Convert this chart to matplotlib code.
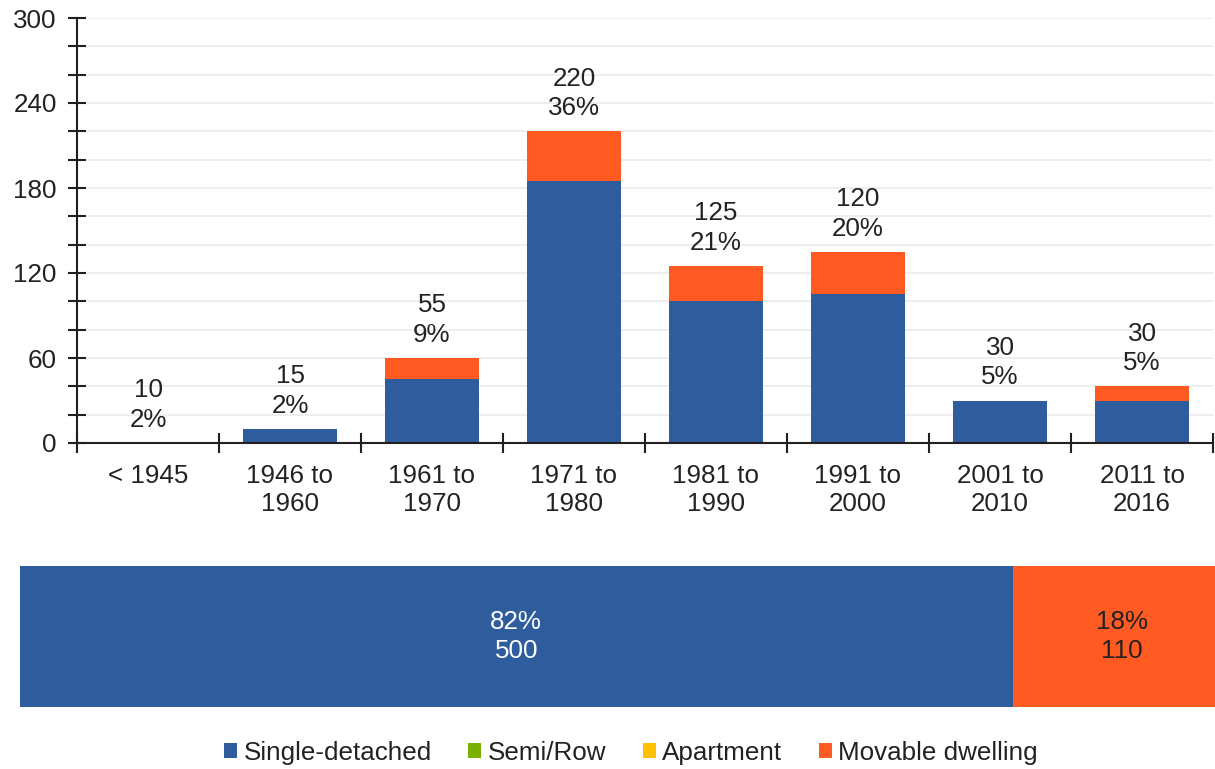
import matplotlib
matplotlib.use("Agg")
import matplotlib.pyplot as plt
from matplotlib.patches import Patch

plt.rcParams['font.family'] = ['Liberation Sans', 'DejaVu Sans']

# Period of construction categories
periods = ["< 1945", "1946 to\n1960", "1961 to\n1970", "1971 to\n1980",
           "1981 to\n1990", "1991 to\n2000", "2001 to\n2010", "2011 to\n2016"]

# Stacked segments by dwelling type
single_detached = [0, 10, 45, 185, 100, 105, 30, 30]
semi_row = [0, 0, 0, 0, 0, 0, 0, 0]
apartment = [0, 0, 0, 0, 0, 0, 0, 0]
movable = [0, 0, 15, 35, 25, 30, 0, 10]

# Labels above each column
period_totals = [10, 15, 55, 220, 125, 120, 30, 30]
period_shares = [2, 2, 9, 36, 21, 20, 5, 5]

# Overall totals by dwelling type
type_names = ["Single-detached", "Semi/Row", "Apartment", "Movable dwelling"]
type_totals = [500, 0, 0, 110]
type_shares = [82, 0, 0, 18]

colors = ["#2E5C9C", "#7AB000", "#FFC000", "#FF5A22"]
text_color = "#222222"
axis_color = "#231F20"
FS = 18.7

W, H = 1215, 769
fig = plt.figure(figsize=(W / 100, H / 100), dpi=100)

# ---- upper chart: stacked columns by period ----
ax = fig.add_axes([77 / W, (H - 443) / H, 1136 / W, 425 / H])
series = [single_detached, semi_row, apartment, movable]
x = list(range(len(periods)))
bottom = [0] * len(periods)
for vals, col in zip(series, colors):
    ax.bar(x, vals, width=0.66, bottom=bottom, color=col, edgecolor="none", zorder=3)
    bottom = [b + v for b, v in zip(bottom, vals)]

for xi, top, tot, pct in zip(x, bottom, period_totals, period_shares):
    ax.annotate(f"{tot}\n{pct}%", xy=(xi, top), xytext=(0, 8), textcoords="offset points",
                ha="center", va="bottom", fontsize=FS, color=text_color, linespacing=1.3)

ax.set_xlim(-0.5, len(periods) - 0.5)
ax.set_ylim(0, 300)
ax.set_yticks(range(0, 301, 20))
ax.set_yticklabels([str(v) if v % 60 == 0 else "" for v in range(0, 301, 20)])
ax.set_xticks([i - 0.5 for i in range(len(periods) + 1)])
ax.set_xticklabels([])
ax.set_xticks(x, minor=True)
ax.set_xticklabels(periods, minor=True)
ax.tick_params(axis="y", direction="inout", length=13, width=1.5, color=axis_color,
               labelsize=FS, labelcolor=text_color, pad=8)
ax.tick_params(axis="x", which="major", direction="inout", length=15, width=1.5, color=axis_color)
ax.tick_params(axis="x", which="minor", length=0, labelsize=FS, labelcolor=text_color, pad=15)
for lbl in ax.get_xticklabels(minor=True):
    lbl.set_linespacing(1.22)
ax.yaxis.grid(True, color="#EBEBEB", linewidth=1.2, zorder=0)
ax.set_axisbelow(True)
for s in ["top", "right"]:
    ax.spines[s].set_visible(False)
for s in ["left", "bottom"]:
    ax.spines[s].set_color(axis_color)
    ax.spines[s].set_linewidth(1.5)
    ax.spines[s].set_zorder(4)

# ---- lower chart: overall share by dwelling type ----
ax2 = fig.add_axes([20 / W, (H - 707) / H, 1211 / W, 141 / H])
left = 0
label_colors = ["white", text_color, text_color, text_color]
for val, pct, col, lc in zip(type_totals, type_shares, colors, label_colors):
    ax2.barh(0, val, left=left, height=1, color=col, edgecolor="none")
    if val > 0:
        ax2.text(left + val / 2, 0, f"{pct}%\n{val}", ha="center", va="center",
                 fontsize=FS, color=lc, linespacing=1.3)
    left += val
ax2.set_xlim(0, sum(type_totals))
ax2.set_ylim(-0.5, 0.5)
ax2.axis("off")

# ---- legend ----
handles = [Patch(facecolor=c, edgecolor="none") for c in colors]
fig.legend(handles, type_names, loc="center", bbox_to_anchor=(631 / W, 1 - 753 / H),
           ncol=4, frameon=False, fontsize=FS, handlelength=0.5, handleheight=0.5,
           handletextpad=0.25, columnspacing=1.4, labelcolor=text_color)

fig.savefig("out.png", dpi=100)
